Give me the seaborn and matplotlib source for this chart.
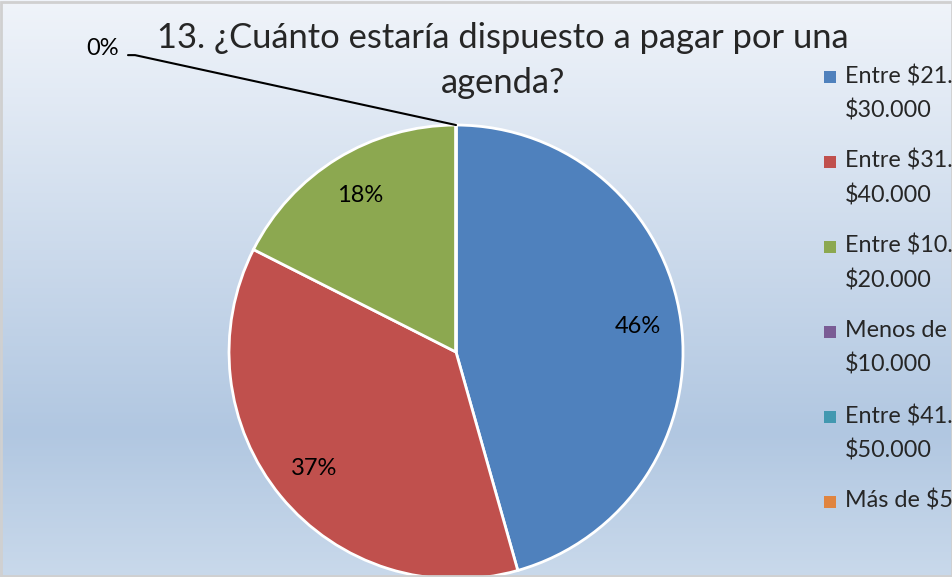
import numpy as np
import matplotlib
matplotlib.use("Agg")
import matplotlib.pyplot as plt
import seaborn as sns
from matplotlib.colors import LinearSegmentedColormap

# data (counts giving 46% / 37% / 18% / 0 / 0 / 0)
categories = ["Entre $21.\n$30.000", "Entre $31.\n$40.000", "Entre $10.\n$20.000",
              "Menos de\n$10.000", "Entre $41.\n$50.000", "Más de $5"]
counts = [26, 21, 10, 0, 0, 0]
colors = ["#4f81bd", "#c0504d", "#8ca850", "#7a5c95", "#4298b0", "#e0843f"]
title = "13. ¿Cuánto estaría dispuesto a pagar por una\nagenda?"

sns.set_theme(style="white")
plt.rcParams["font.family"] = ["Lato", "DejaVu Sans"]
text_color = "#262626"

fig = plt.figure(figsize=(9.53, 5.77), dpi=100)

# gradient background
bg = fig.add_axes([0, 0, 1, 1], zorder=-10)
cmap = LinearSegmentedColormap.from_list(
    "bg", [(0, "#f0f4fa"), (0.75, "#b1c7e1"), (1.0, "#c9d9eb")])
bg.imshow(np.linspace(0, 1, 256).reshape(-1, 1), aspect="auto", cmap=cmap,
          extent=[0, 1, 0, 1])
bg.set_axis_off()
fig.patches.append(plt.Rectangle((0.001, 0.001), 0.998, 0.996, transform=fig.transFigure,
                                 fill=False, edgecolor="#d0d0d0", linewidth=2))

ax = fig.add_axes([0.2403, -0.0035, 0.4764, 0.7868])
wedges, _, autotexts = ax.pie(
    counts, colors=colors, startangle=90, counterclock=False,
    autopct=lambda p: f"{p:.0f}%" if p > 0 else "", pctdistance=0.81,
    wedgeprops=dict(edgecolor="white", linewidth=2),
    textprops=dict(fontsize=17, color="black"))
ax.set_xlim(-1, 1)
ax.set_ylim(-1, 1)
ax.set_aspect("equal")

# leader line for the zero slices at the top of the pie
th = np.deg2rad(wedges[3].theta1)
ex, ey = np.cos(th), np.sin(th)
ax.plot([-1.445, -1.414, ex], [1.308, 1.308, ey], color="black", lw=1.5, clip_on=False)
ax.text(-1.485, 1.335, "0%", ha="right", va="center", fontsize=17, color="black")

fig.text(0.528, 0.962, title, ha="center", va="top", fontsize=24.8, color=text_color,
         linespacing=1.5)

# legend: square marker beside the first line of each (wrapped) label
y0, step = 1 - 77 / 577, 85 / 577
for i, (lab, col) in enumerate(zip(categories, colors)):
    y = y0 - i * step
    fig.patches.append(plt.Rectangle((824 / 953, y - 6 / 577), 12 / 953, 12 / 577,
                                     transform=fig.transFigure, facecolor=col,
                                     edgecolor="none"))
    fig.text(845 / 953, y, lab, ha="left", va="top", fontsize=16.8, color=text_color,
             linespacing=1.72, transform=fig.transFigure).set_y(y + 12 / 577)

fig.savefig("out.png", dpi=100)
